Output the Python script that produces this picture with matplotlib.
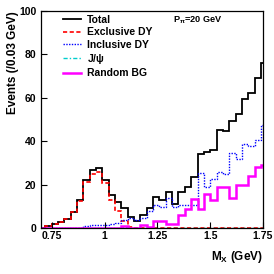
import numpy as np
import matplotlib
matplotlib.use('Agg')
import matplotlib.pyplot as plt

plt.rcParams['font.family'] = 'Liberation Sans'
plt.rcParams['font.weight'] = 'bold'
plt.rcParams['mathtext.fontset'] = 'custom'
plt.rcParams['mathtext.rm'] = 'Liberation Sans:bold'
plt.rcParams['mathtext.it'] = 'Liberation Sans:bold'
plt.rcParams['mathtext.bf'] = 'Liberation Sans:bold'
plt.rcParams['mathtext.default'] = 'rm'

# bin edges 0.69 .. 1.77 GeV in 0.03 GeV steps (36 bins)
edges = np.round(np.arange(0.69, 1.7801, 0.03), 2)

total = [0, 0.7, 2.0, 2.8, 4.1, 7.4, 12.8, 22, 26.6, 27.8, 22, 15, 12, 9, 5, 3.2,
         5.9, 9.2, 14.3, 12.8, 16.8, 11, 16.8, 18.9, 23.5, 34.3, 35, 35.8, 45, 44.5,
         49.5, 52.5, 59.6, 62, 69, 76]
exclusive = [0, 0.7, 2.0, 2.8, 4.0, 7.4, 12.5, 21, 25, 26, 20.5, 13, 8, 3, 0.5, 0,
             0, 0, 0, 0, 0, 0, 0, 0, 0, 0, 0, 0, 0, 0, 0, 0, 0, 0, 0, 0]
inclusive = [0, 0, 0, 0, 0, 0, 0, 1.0, 1.5, 1.5, 1.2, 2, 2.5, 3.5, 4.5, 3.5,
             4.4, 8, 10.5, 9.8, 14, 9.5, 10.5, 10.8, 10.8, 25.3, 18.9, 22.7, 25.8, 25,
             34.6, 32, 38.9, 38, 40.7, 47.3]
jpsi = [0, 0, 0, 0, 0, 0, 0, 0, 0, 0, 0, 0, 0, 0.3, 0, 0,
        0, 0, 0, 0, 0, 0, 0, 0, 0, 0, 0, 0, 0, 0, 0, 0, 0, 0, 0, 0]
random_bg = [0, 0, 0, 0, 0, 0, 0, 0, 0, 0, 0, 0, 0, 0.8, 0, 0,
             1.5, 0.5, 3.2, 3.2, 2, 2, 5.8, 8.9, 13.5, 8.9, 15.5, 12.8, 18.9, 18.9,
             14, 19.7, 19.7, 23.8, 28.2, 29]

xticks = [0.75, 1.0, 1.25, 1.5, 1.75]
xticklabels = ['0.75', '1', '1.25', '1.5', '1.75']
yticks = [0, 20, 40, 60, 80, 100]

fig = plt.figure(figsize=(2.74, 2.74), dpi=100)
ax = fig.add_axes([0.150, 0.168, 0.810, 0.792])

ax.stairs(total, edges, color='black', lw=1.3, label='Total')
ax.stairs(exclusive, edges, color='#ff0000', lw=1.2, ls=(0, (2.5, 1.5)), label='Exclusive DY')
ax.stairs(inclusive, edges, color='#0000ff', lw=1.0, ls=(0, (1, 1)), label='Inclusive DY')
ax.stairs(jpsi, edges, color='#00cccc', lw=1.0, ls=(0, (3, 1.5, 1, 1.5)), label=r'J/$\psi$')
ax.stairs(random_bg, edges, color='#ff00ff', lw=1.8, label='Random BG')

ax.set_xlim(0.7, 1.75)
ax.set_ylim(0, 100)
ax.set_xticks(xticks)
ax.set_xticklabels(xticklabels)
ax.set_yticks(yticks)
ax.tick_params(direction='in', length=4.5, width=0.8, labelsize=7.5, top=False, right=False)
ax.tick_params(axis='x', pad=2.5)
for s in ax.spines.values():
    s.set_linewidth(0.9)

ax.set_ylabel('Events (/0.03 GeV)', fontsize=8.5, fontweight='bold')
ax.yaxis.set_label_coords(-0.125, 1.0)
ax.yaxis.label.set_horizontalalignment('right')
ax.yaxis.label.set_verticalalignment('center')
ax.set_xlabel(r'M$_{X}$ (GeV)', fontsize=8.5, fontweight='bold')
ax.xaxis.set_label_coords(1.0, -0.095)
ax.xaxis.label.set_horizontalalignment('right')

ax.text(0.595, 0.985, r'P$_{\pi}$=20 GeV', transform=ax.transAxes, fontsize=6.6,
        fontweight='bold', ha='left', va='top')

leg = ax.legend(loc='upper left', bbox_to_anchor=(0.078, 1.0), frameon=False,
                fontsize=7.5, handlelength=1.8, handletextpad=0.5, labelspacing=0.22,
                borderaxespad=0)

fig.savefig('out.png', dpi=100)
